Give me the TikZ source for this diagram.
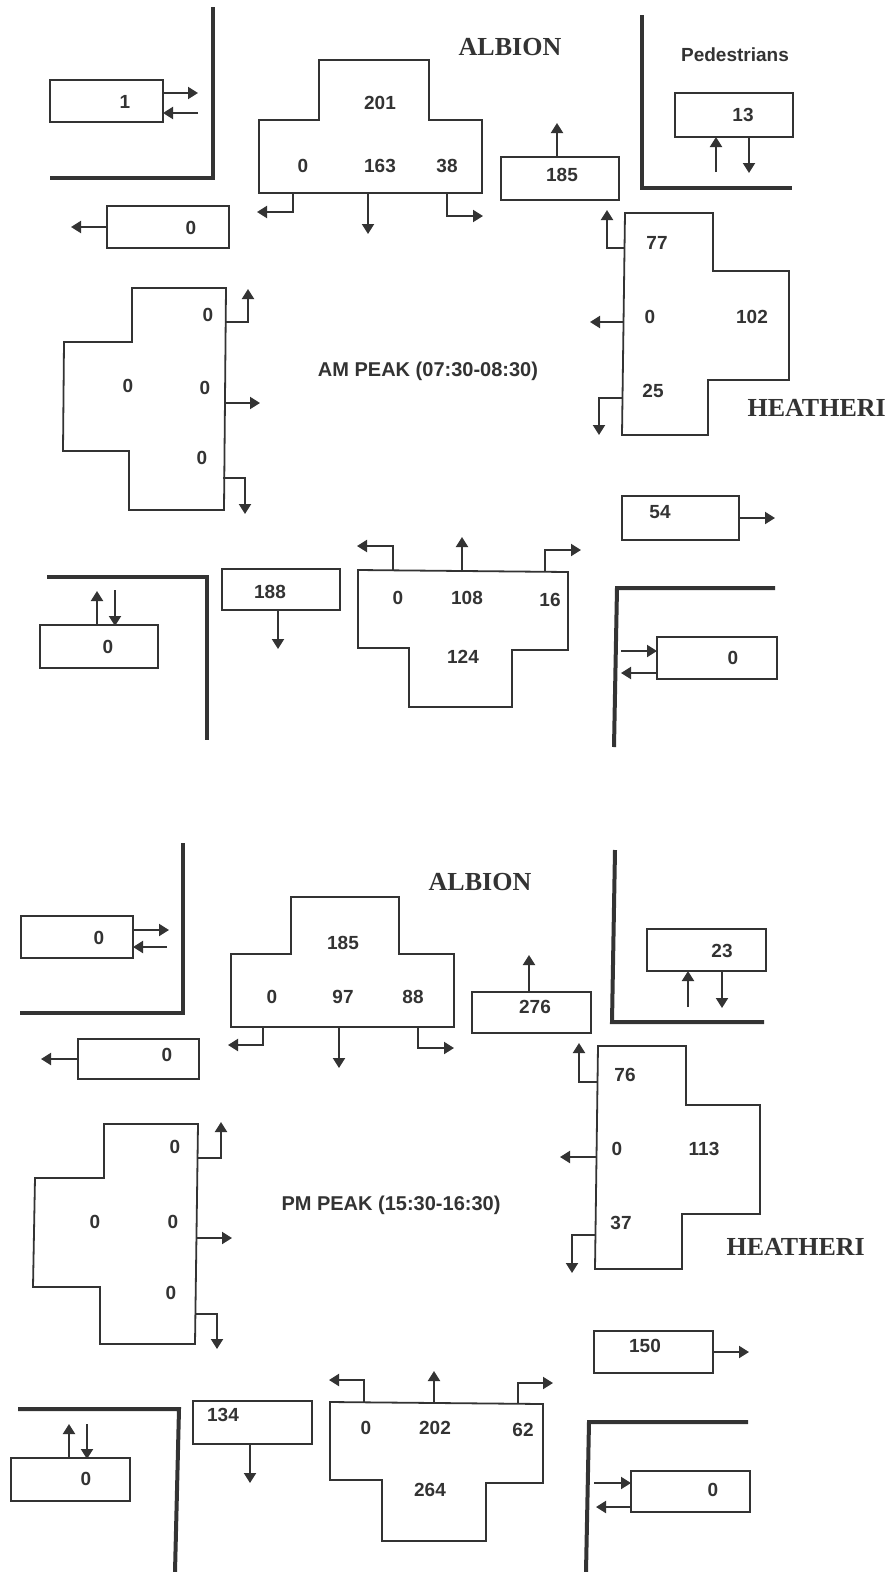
\documentclass[tikz,border=0pt]{standalone}
\usepackage{fontspec}
\setmainfont{Liberation Sans}
\newfontfamily\roadfont{Liberation Serif}
\usetikzlibrary{arrows.meta}
\definecolor{ink}{gray}{0.2}

\begin{document}
\begin{tikzpicture}[x=1pt, y=-1pt,
    box/.style={draw=ink, line width=1.8pt},
    kerb/.style={draw=ink, line width=4pt},
    flow/.style={draw=ink, line width=2pt, -{Triangle[length=10pt,width=12pt]}},
    num/.style={font=\fontsize{19}{19}\selectfont\bfseries, text=ink},
    road/.style={font=\roadfont\fontsize{26}{26}\selectfont\bfseries, text=ink},
    peak/.style={font=\fontsize{20}{20}\selectfont\bfseries, text=ink}]
    \useasboundingbox (0,0) rectangle (888,1572);

    % ===== AM peak =====
    \begin{scope}
        % north-west corner
        \draw[kerb] (50,178) -- (213,178) -- (213,7);
        \draw[box] (50,80) rectangle (163,122);
        \node[num] at (125,102) {1};
        \draw[flow] (163,93) -- (198,93);
        \draw[flow] (198,113) -- (163,113);
        \draw[box] (107,206) rectangle (229,248);
        \node[num] at (191,228) {0};
        \draw[flow] (107,227) -- (71,227);

        % Albion approach
        \node[road] at (510,47) {ALBION};
        \draw[box] (319,60) -- (429,60) -- (429,120) -- (482,120) -- (482,193)
            -- (259,193) -- (259,120) -- (319,120) -- cycle;
        \node[num] at (380,103) {201};
        \node[num] at (303,166) {0};
        \node[num] at (380,166) {163};
        \node[num] at (447,166) {38};
        \draw[flow] (293,193) -- (293,212) -- (257,212);
        \draw[flow] (368,193) -- (368,234);
        \draw[flow] (447,193) -- (447,216) -- (483,216);

        % north-east corner
        \draw[kerb] (642,15) -- (642,188) -- (792,188);
        \node[num] at (735,55) {Pedestrians};
        \draw[box] (675,93) rectangle (793,137);
        \node[num] at (743,115) {13};
        \draw[flow] (716,172) -- (716,137);
        \draw[flow] (749,137) -- (749,173);
        \draw[box] (501,157) rectangle (619,200);
        \node[num] at (562,175) {185};
        \draw[flow] (557,157) -- (557,123);

        % Heatheri approach
        \draw[box] (625,213) -- (713,213) -- (713,271) -- (789,271) -- (789,380)
            -- (708,380) -- (708,435) -- (622,435) -- cycle;
        \node[num] at (657,243) {77};
        \node[num] at (650,317) {0};
        \node[num] at (752,317) {102};
        \node[num] at (653,391) {25};
        \draw[flow] (625,248) -- (607,248) -- (607,210);
        \draw[flow] (624,322) -- (590,322);
        \draw[flow] (623,398) -- (599,398) -- (599,435);
        \node[road, anchor=west] at (744,408) {HEATHERI};

        \node[peak] at (428,371) {AM PEAK (07:30-08:30)};

        % west approach
        \draw[box] (132,288) -- (226,288) -- (224,510) -- (129,510) -- (129,451)
            -- (63,451) -- (64,342) -- (132,342) -- cycle;
        \node[num] at (208,315) {0};
        \node[num] at (128,386) {0};
        \node[num] at (205,388) {0};
        \node[num] at (202,458) {0};
        \draw[flow] (226,322) -- (248,322) -- (248,289);
        \draw[flow] (225,403) -- (260,403);
        \draw[flow] (223,478) -- (245,478) -- (245,514);

        % south-west corner
        \draw[kerb] (47,577) -- (207,577) -- (207,740);
        \draw[box] (40,625) rectangle (158,668);
        \node[num] at (108,647) {0};
        \draw[flow] (97,625) -- (97,591);
        \draw[flow] (115,590) -- (115,626);
        \draw[box] (222,569) rectangle (340,610);
        \node[num] at (270,592) {188};
        \draw[flow] (278,610) -- (278,649);

        % south approach
        \draw[box] (358,570) -- (568,572) -- (568,650) -- (512,650) -- (512,707)
            -- (409,707) -- (409,648) -- (358,648) -- cycle;
        \node[num] at (398,598) {0};
        \node[num] at (467,598) {108};
        \node[num] at (550,600) {16};
        \node[num] at (463,657) {124};
        \draw[flow] (393,571) -- (393,546) -- (357,546);
        \draw[flow] (462,572) -- (462,537);
        \draw[flow] (545,572) -- (545,550) -- (581,550);

        % south-east corner
        \draw[box] (622,496) rectangle (739,540);
        \node[num] at (660,512) {54};
        \draw[flow] (739,518) -- (775,518);
        \draw[kerb] (775,588) -- (617,588) -- (614,747);
        \draw[box] (657,637) rectangle (777,679);
        \node[num] at (733,658) {0};
        \draw[flow] (621,651) -- (657,651);
        \draw[flow] (657,673) -- (621,673);
    \end{scope}

    % ===== PM peak =====
    \begin{scope}
        % north-west corner
        \draw[kerb] (20,1013) -- (183,1013) -- (183,843);
        \draw[box] (21,916) rectangle (133,958);
        \node[num] at (99,938) {0};
        \draw[flow] (133,930) -- (169,930);
        \draw[flow] (167,947) -- (133,947);
        \draw[box] (78,1039) rectangle (199,1079);
        \node[num] at (167,1055) {0};
        \draw[flow] (78,1059) -- (41,1059);

        % Albion approach
        \node[road] at (480,882) {ALBION};
        \draw[box] (291,897) -- (399,897) -- (399,954) -- (454,954) -- (454,1027)
            -- (231,1027) -- (231,954) -- (291,954) -- cycle;
        \node[num] at (343,943) {185};
        \node[num] at (272,997) {0};
        \node[num] at (343,997) {97};
        \node[num] at (413,997) {88};
        \draw[flow] (263,1027) -- (263,1045) -- (228,1045);
        \draw[flow] (339,1027) -- (339,1068);
        \draw[flow] (418,1027) -- (418,1048) -- (454,1048);

        % north-east corner
        \draw[kerb] (615,850) -- (612,1022) -- (764,1022);
        \draw[box] (647,929) rectangle (766,971);
        \node[num] at (722,951) {23};
        \draw[flow] (688,1007) -- (688,971);
        \draw[flow] (722,971) -- (722,1008);
        \draw[box] (472,992) rectangle (591,1033);
        \node[num] at (535,1007) {276};
        \draw[flow] (529,992) -- (529,955);

        % Heatheri approach
        \draw[box] (598,1046) -- (686,1046) -- (686,1105) -- (760,1105) -- (760,1214)
            -- (682,1214) -- (682,1269) -- (595,1269) -- cycle;
        \node[num] at (625,1075) {76};
        \node[num] at (617,1149) {0};
        \node[num] at (704,1149) {113};
        \node[num] at (621,1223) {37};
        \draw[flow] (598,1082) -- (579,1082) -- (579,1043);
        \draw[flow] (596,1157) -- (560,1157);
        \draw[flow] (595,1235) -- (572,1235) -- (572,1273);
        \node[road, anchor=west] at (723,1247) {HEATHERI};

        \node[peak] at (391,1205) {PM PEAK (15:30-16:30)};

        % west approach
        \draw[box] (104,1124) -- (198,1124) -- (195,1344) -- (100,1344) -- (100,1287)
            -- (33,1287) -- (35,1178) -- (104,1178) -- cycle;
        \node[num] at (175,1147) {0};
        \node[num] at (95,1222) {0};
        \node[num] at (173,1222) {0};
        \node[num] at (171,1293) {0};
        \draw[flow] (198,1158) -- (221,1158) -- (221,1122);
        \draw[flow] (196,1238) -- (232,1238);
        \draw[flow] (195,1314) -- (217,1314) -- (217,1349);

        % south-east corner
        \draw[box] (594,1331) rectangle (713,1373);
        \node[num] at (645,1346) {150};
        \draw[flow] (713,1352) -- (749,1352);
        \draw[kerb] (748,1422) -- (589,1422) -- (586,1572);
        \draw[box] (631,1471) rectangle (750,1512);
        \node[num] at (713,1490) {0};
        \draw[flow] (594,1483) -- (631,1483);
        \draw[flow] (631,1507) -- (596,1507);

        % south approach
        \draw[box] (330,1402) -- (543,1404) -- (543,1483) -- (486,1483) -- (486,1541)
            -- (382,1541) -- (382,1480) -- (330,1480) -- cycle;
        \node[num] at (366,1428) {0};
        \node[num] at (435,1428) {202};
        \node[num] at (523,1430) {62};
        \node[num] at (430,1490) {264};
        \draw[flow] (364,1402) -- (364,1380) -- (329,1380);
        \draw[flow] (434,1402) -- (434,1371);
        \draw[flow] (518,1404) -- (518,1383) -- (553,1383);

        % south-west corner
        \draw[box] (193,1401) rectangle (312,1444);
        \node[num] at (223,1415) {134};
        \draw[flow] (250,1444) -- (250,1483);
        \draw[kerb] (18,1409) -- (179,1409) -- (175,1572);
        \draw[box] (11,1458) rectangle (130,1501);
        \node[num] at (86,1479) {0};
        \draw[flow] (69,1458) -- (69,1424);
        \draw[flow] (87,1424) -- (87,1459);
    \end{scope}
\end{tikzpicture}
\end{document}
